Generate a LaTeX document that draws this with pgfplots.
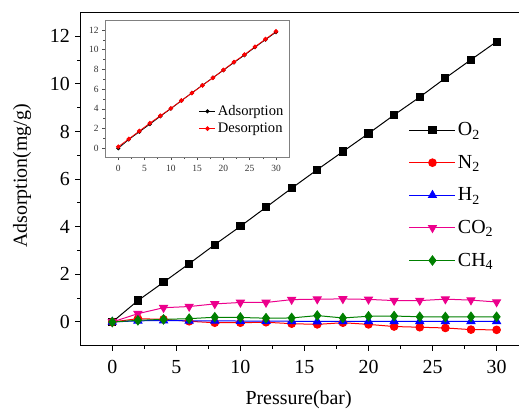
\documentclass[border=0pt]{standalone}
\usepackage{fontspec}
\setmainfont{Liberation Serif}
\usepackage{pgfplots}
\pgfplotsset{compat=1.18}
\definecolor{cgreen}{RGB}{0,128,0}
\begin{document}
\begin{tikzpicture}
\begin{axis}[
  x=12.81bp, y=23.8bp,
  anchor=origin, at={(112.3bp,88bp)},
  xmin=-2.5, xmax=32.5, ymin=-1, ymax=13,
  axis line style={line width=1.1bp},
  xtick={0,5,...,30}, ytick={0,2,...,12},
  minor x tick num=1, minor y tick num=1,
  xtick pos=bottom, ytick pos=left,
  tick align=outside,
  major tick length=5bp, minor tick length=3bp,
  every tick/.style={line width=1bp, black},
  ticklabel style={font=\fontsize{20}{24}\selectfont},
  xticklabel style={yshift=-6bp},
  yticklabel style={xshift=-2bp},
  /pgf/number format/assume math mode=true,
  xlabel={Pressure(bar)},
  ylabel={Adsorption(mg/g)},
  label style={font=\fontsize{20}{24}\selectfont},
  xlabel style={at={(axis description cs:0.487,-0.163)}, anchor=center},
  ylabel style={at={(axis description cs:-0.130,0.51)}, anchor=center, rotate=0},
  legend style={draw=none, fill=none, at={(0.726,0.682)}, anchor=north west,
    font=\fontsize{20}{24}\selectfont, row sep=14bp},
  legend cell align=left,
  legend image code/.code={\draw[mark repeat=2,mark phase=2] plot coordinates {(0bp,0bp) (23bp,0bp) (46bp,0bp)};},
]
\addplot[black, line width=1bp, mark=square*, mark size=3.6bp] coordinates {
(0,0) (2,0.9) (4,1.67) (6,2.45) (8,3.25) (10,4.02) (12,4.82) (14,5.62) (16,6.4) (18,7.16) (20,7.92) (22,8.7) (24,9.45) (26,10.25) (28,11.02) (30,11.78)};
\addlegendentry{O\textsubscript{2}}
\addplot[red, line width=1bp, mark=*, mark size=3.8bp] coordinates {
(0,0) (2,0.14) (4,0.11) (6,0.03) (8,-0.03) (10,-0.03) (12,-0.01) (14,-0.07) (16,-0.1) (18,-0.03) (20,-0.1) (22,-0.19) (24,-0.22) (26,-0.25) (28,-0.32) (30,-0.33)};
\addlegendentry{N\textsubscript{2}}
\addplot[blue, line width=1bp, mark=triangle*, mark size=4.5bp] coordinates {
(0,0) (2,0.05) (4,0.06) (6,0.05) (8,0.05) (10,0.04) (12,0.04) (14,0.03) (16,0.02) (18,0.03) (20,0.03) (22,0.03) (24,0.03) (26,0.03) (28,0.03) (30,0.03)};
\addlegendentry{H\textsubscript{2}}
\addplot[magenta, line width=1bp, mark=triangle*, mark options={rotate=180}, mark size=4.5bp] coordinates {
(0,0) (2,0.35) (4,0.6) (6,0.65) (8,0.76) (10,0.82) (12,0.82) (14,0.94) (16,0.96) (18,0.97) (20,0.95) (22,0.9) (24,0.9) (26,0.96) (28,0.92) (30,0.84)};
\addlegendentry{CO\textsubscript{2}}
\addplot[cgreen, line width=1bp, mark=diamond*, mark size=4.6bp] coordinates {
(0,0) (2,0.07) (4,0.11) (6,0.14) (8,0.2) (10,0.19) (12,0.16) (14,0.17) (16,0.27) (18,0.17) (20,0.24) (22,0.25) (24,0.22) (26,0.21) (28,0.22) (30,0.22)};
\addlegendentry{CH\textsubscript{4}}
\end{axis}
\begin{axis}[
  x=5.257bp, y=9.86bp,
  anchor=origin, at={(118.3bp,261.7bp)},
  xmin=-2.5, xmax=32.5, ymin=-0.9, ymax=13,
  axis background/.style={fill=white},
  axis line style={gray, line width=0.7bp},
  xtick={0,5,...,30}, ytick={0,2,...,12},
  minor x tick num=1, minor y tick num=1,
  xtick pos=bottom, ytick pos=left,
  tick align=outside,
  major tick length=3bp, minor tick length=2bp,
  every tick/.style={line width=0.5bp, gray!60!black},
  ticklabel style={font=\fontsize{9.5}{11}\selectfont, text=black!80},
  xticklabel style={yshift=-2bp},
  /pgf/number format/assume math mode=true,
  legend style={draw=none, fill=none, at={(0.504,0.40)}, anchor=north west,
    font=\fontsize{14.6}{16}\selectfont, row sep=2bp, inner sep=1bp},
  legend cell align=left,
  legend image code/.code={\draw[mark repeat=2,mark phase=2] plot coordinates {(0bp,0bp) (8bp,0bp) (16bp,0bp)};},
]
\addplot[black, line width=0.8bp, mark=*, mark size=1.6bp] coordinates {
(0,0) (2,0.9) (4,1.67) (6,2.45) (8,3.25) (10,4.02) (12,4.82) (14,5.62) (16,6.4) (18,7.16) (20,7.92) (22,8.7) (24,9.45) (26,10.25) (28,11.02) (30,11.78)};
\addlegendentry{Adsorption}
\addplot[red, line width=0.8bp, mark=*, mark size=1.9bp] coordinates {
(0,0.16) (2,0.95) (4,1.75) (6,2.55) (8,3.3) (10,4.05) (12,4.85) (14,5.6) (16,6.38) (18,7.15) (20,7.95) (22,8.75) (24,9.5) (26,10.3) (28,11.07) (30,11.85)};
\addlegendentry{Desorption}
\end{axis}
\pgfresetboundingbox
\path[use as bounding box] (0,0) rectangle (519bp,410bp);
\end{tikzpicture}
\end{document}
